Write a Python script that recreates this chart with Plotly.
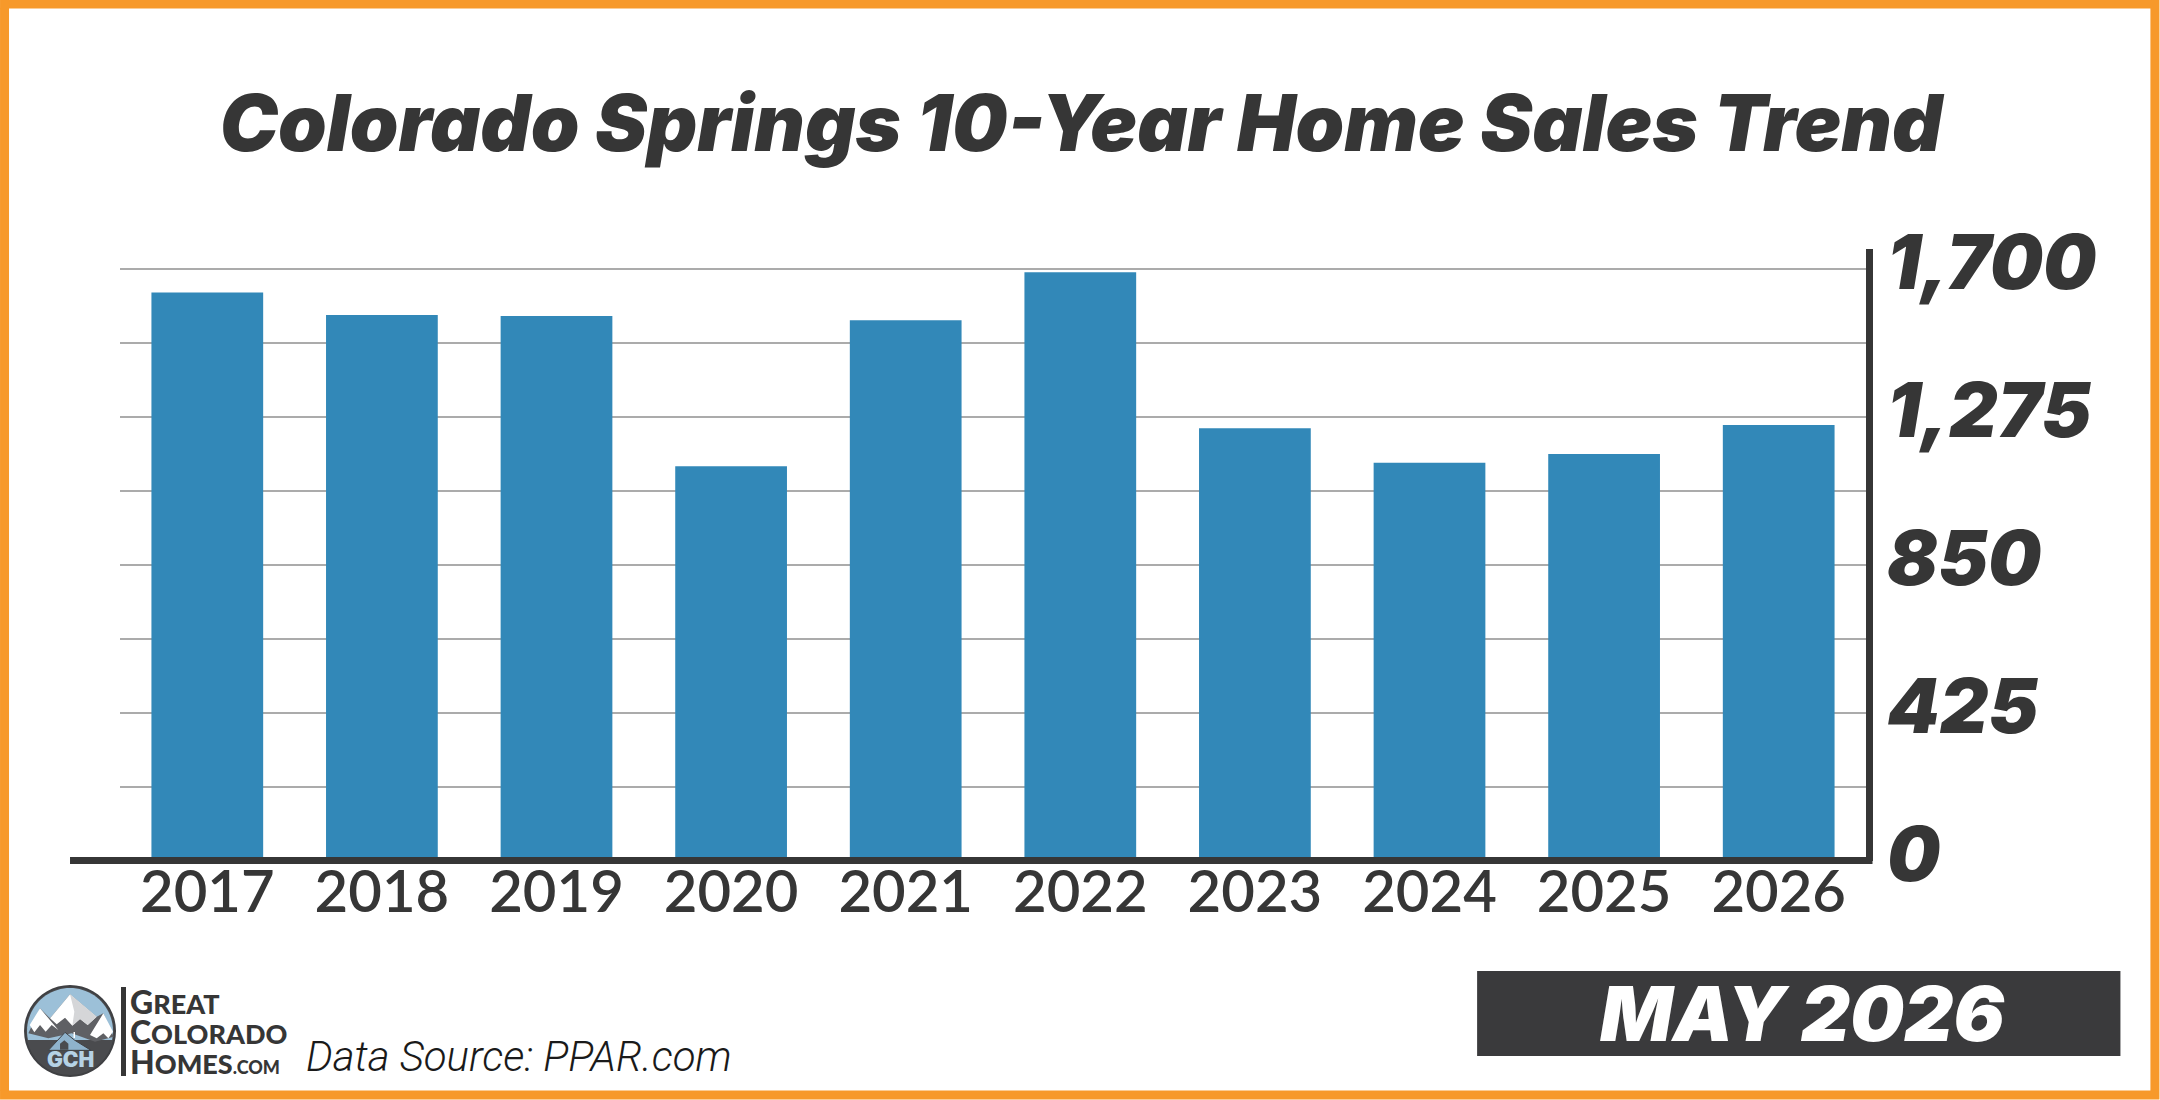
import math
import plotly.graph_objects as go

# Annual May home sales, Colorado Springs
years = ["2017", "2018", "2019", "2020", "2021", "2022", "2023", "2024", "2025", "2026"]
sales = [1633, 1568, 1565, 1134, 1553, 1691, 1243, 1144, 1169, 1252]

grid_values = [0, 212.5, 425, 637.5, 850, 1062.5, 1275, 1487.5, 1700]
grid_labels = ["0", "", "425", "", "850", "", "1,275", "", "1,700"]

W, H = 2160, 1100
PLOT_L, PLOT_R, PLOT_T, PLOT_B = 120, 1866.5, 249, 861
Y_MAX = 1757.6

INK = "#363636"
ORANGE = "#F7992A"
BAR = "#3288B8"
SKY = "#9CC0D8"
SLATE = "#4A4B4E"
ROCK = "#5F6064"
SNOW = "#FFFFFF"
SHADE = "#D5D6D8"
ROOF = "#8FB3CC"


def px(x):
    return (x - PLOT_L) / (PLOT_R - PLOT_L)


def py(y):
    return (PLOT_B - y) / (PLOT_B - PLOT_T)


def rect(x0, y0, x1, y1, fill=None, line=None, width=0, layer="above"):
    return dict(type="rect", xref="paper", yref="paper",
                x0=px(x0), x1=px(x1), y0=py(y1), y1=py(y0),
                fillcolor=fill or "rgba(0,0,0,0)",
                line=dict(color=line or "rgba(0,0,0,0)", width=width), layer=layer)


def poly(points, fill, line=None, width=0):
    d = "M " + " L ".join(f"{px(x):.5f},{py(y):.5f}" for x, y in points) + " Z"
    return dict(type="path", xref="paper", yref="paper", path=d, fillcolor=fill,
                line=dict(color=line or "rgba(0,0,0,0)", width=width), layer="above")


def logo(zoomed):
    # Logo artwork is sketched on a 3x grid anchored at (15, 975)
    return [(15 + x / 3, 975 + y / 3) for x, y in zoomed]


def arc(cx, cy, r, a0, a1, steps=48):
    return [(cx + r * math.cos(math.radians(a0 + (a1 - a0) * i / steps)),
             cy + r * math.sin(math.radians(a0 + (a1 - a0) * i / steps)))
            for i in range(steps + 1)]


def label(x, y, text, size, color=INK, anchor="left", weight=400, style="normal",
          family="Lato"):
    return dict(x=px(x), y=py(y), xref="paper", yref="paper", text=text, showarrow=False,
                xanchor=anchor, yanchor="middle", align="left", borderpad=0, borderwidth=0,
                font=dict(family=family, size=size, color=color, weight=weight, style=style))


cx, cy, r = 70, 1031, 45
shapes = [
    rect(4.5, 4, 2155.5, 1095, line=ORANGE, width=9),
    # long base rule that runs past the plot on the left
    rect(70, 857, 1873, 864, fill=INK),
    # month banner
    rect(1477.5, 971, 2121, 1056, fill="#3A3A3C"),
    # logo roundel
    poly(arc(cx, cy, r, 0, 360), SLATE, line="#3F4043", width=2),
    poly(arc(cx, cy, r - 2, 168, 372), SKY),
    poly(logo([(40, 175), (75, 100), (105, 130), (165, 58), (245, 125), (265, 115), (296, 185),
               (240, 200), (170, 175), (100, 190)]), ROCK),
    poly(logo([(105, 130), (165, 58), (245, 125), (218, 150), (195, 132), (172, 152), (150, 128), (125, 148)]), SNOW),
    poly(logo([(165, 58), (245, 125), (218, 150), (195, 132), (172, 152), (178, 110)]), SHADE),
    poly(logo([(44, 150), (75, 100), (130, 165), (110, 150), (92, 170), (75, 150), (58, 172)]), SNOW),
    poly(logo([(225, 180), (265, 115), (294, 170), (280, 190), (265, 175), (245, 190)]), SNOW),
    # logo house
    poly(logo([(100, 226), (150, 172), (178, 195), (228, 226)]), ROOF, line="#3F4043", width=1),
    poly(logo([(135, 224), (135, 206), (148, 196), (160, 206), (160, 224)]), SLATE),
    rect(73.5, 1032, 75, 1038, fill=SNOW),
    # logo divider
    rect(121, 987, 126, 1076, fill=INK),
]

wordmark = ('<span style="font-size:32px">G</span><span style="font-size:27px">REAT</span><br>'
            '<span style="font-size:32px">C</span><span style="font-size:27px">OLORADO</span><br>'
            '<span style="font-size:32px">H</span><span style="font-size:27px">OMES</span>'
            '<span style="font-size:18px">.COM</span>')

annotations = [
    label(1803, 1013, "MAY 2026", 76, color="#FFFFFF", anchor="center", weight=900, style="italic", family="Inter"),
    label(306, 1056, "Data Source: PPAR.com", 42, color="#1A1A1A", weight=300, style="italic", family="Roboto"),
    label(70, 1059, "GCH", 21, color="#B5D2E5", anchor="center", weight=900, family="Inter"),
    label(130, 1031, wordmark, 23, weight=900),
]

fig = go.Figure(go.Bar(x=years, y=sales, marker=dict(color=BAR, line=dict(width=0)),
                       hoverinfo="x+y"))

fig.update_layout(
    width=W, height=H,
    autosize=False,
    paper_bgcolor="#FFFFFF",
    plot_bgcolor="#FFFFFF",
    showlegend=False,
    bargap=0.36,
    margin=dict(l=PLOT_L, r=W - PLOT_R, t=PLOT_T, b=H - PLOT_B, pad=0),
    title=dict(text="Colorado Springs 10-Year Home Sales Trend", xref="container", yref="container",
               x=1081 / W, y=1 - 124 / H, xanchor="center", yanchor="middle",
               font=dict(family="Inter", size=78, color=INK, weight=900, style="italic")),
    xaxis=dict(type="category", range=[-0.5, 9.5], showgrid=False, zeroline=False, showline=False,
               ticks="", ticklabelstandoff=-8,
               tickfont=dict(family="Lato", size=58, color=INK, weight=600)),
    yaxis=dict(side="right", range=[0, Y_MAX], tickmode="array", tickvals=grid_values, ticktext=grid_labels,
               showgrid=True, gridcolor="#ABABAB", gridwidth=1.5, zeroline=False,
               showline=True, linecolor=INK, linewidth=7, ticks="", ticklabelstandoff=-1,
               ticklabelshift=-6,
               tickfont=dict(family="Inter", size=75, color=INK, weight=900, style="italic")),
    shapes=shapes,
    annotations=annotations,
)

fig.write_html("out.html")
